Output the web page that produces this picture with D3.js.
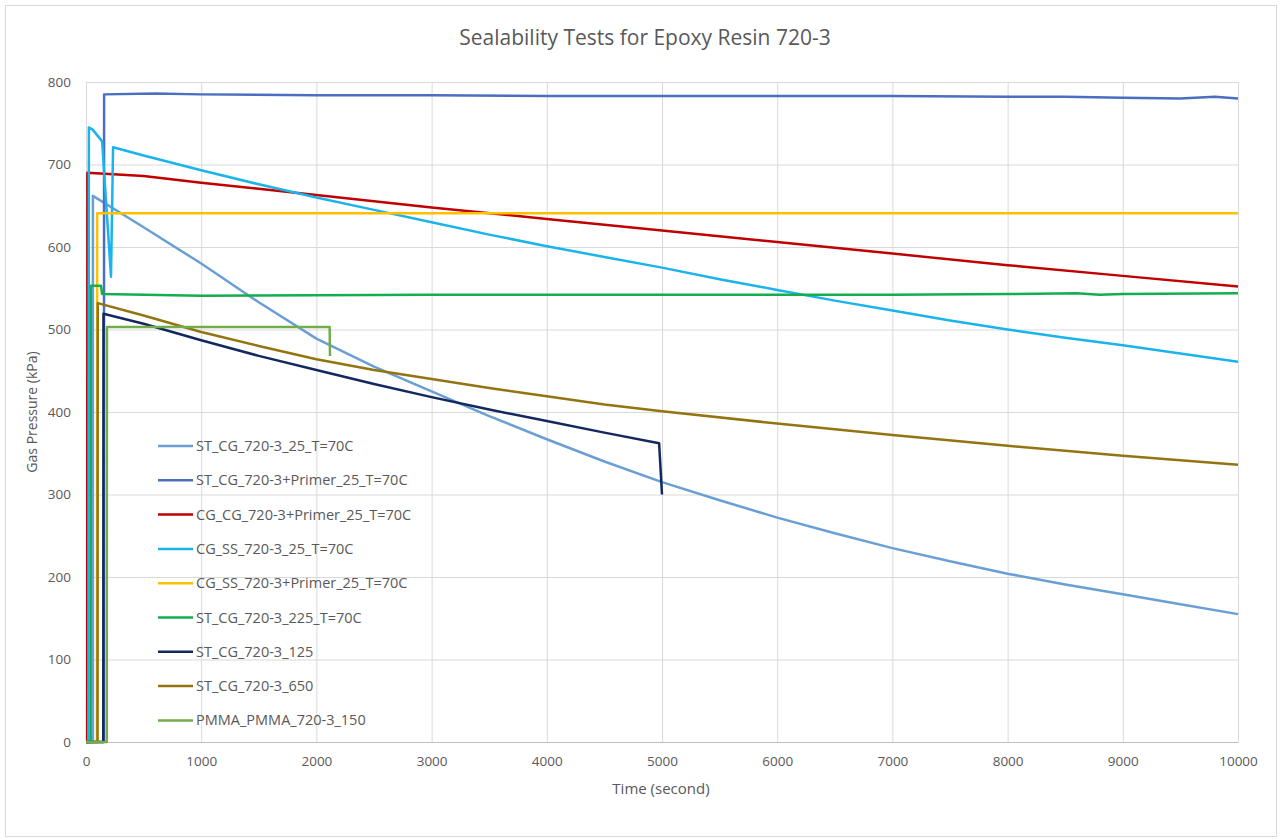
<!DOCTYPE html>
<html>
<head>
<meta charset="utf-8">
<script src="https://cdn.jsdelivr.net/npm/d3@7"></script>
<style>
  html, body { margin: 0; padding: 0; background: #ffffff; }
  svg text { font-family: "Open Sans", "Noto Sans", sans-serif; fill: #595959; }
</style>
</head>
<body>
<svg id="chart" width="1282" height="839"></svg>
<script>
// Pressure records: [time (s), gas pressure (kPa)]
const stCg25 = [[0,0],[60,0],[60,662],[500,624],[1000,580],[1500,533],[2000,489],[2500,455],[3000,425],[3500,395],[4000,367],[4500,340],[5000,315],[5500,293],[6000,272],[6500,253],[7000,235],[7500,219],[8000,204],[8500,191],[9000,179],[9500,167],[10000,155]];
const stCgPrimer25 = [[0,0],[155,0],[157,785],[600,786],[1000,785],[2000,784],[3000,784],[4000,783],[5000,783],[6000,783],[7000,783],[8000,782],[8500,782],[9000,781],[9500,780],[9800,782],[10000,780]];
const cgCgPrimer25 = [[0,0],[10,0],[12,690],[500,686],[1000,678],[2000,663],[3000,648],[4000,634],[5000,620],[6000,606],[7000,592],[8000,578],[9000,565],[10000,552]];
const cgSs25 = [[0,0],[20,0],[25,745],[60,742],[140,728],[217,564],[235,721],[500,711],[1000,693],[1500,676],[2000,660],[2500,645],[3000,630],[3500,615],[4000,601],[4500,588],[5000,575],[5500,561],[6000,548],[6500,535],[7000,523],[7500,511],[8000,500],[8500,490],[9000,481],[9500,471],[10000,461]];
const cgSsPrimer25 = [[0,0],[95,0],[97,641],[2000,641],[4000,641],[6000,641],[8000,641],[10000,641]];
const stCg225 = [[0,0],[40,0],[42,553],[130,553],[140,543],[1000,541],[3000,542],[5000,542],[7000,542],[8000,543],[8600,544],[8800,542],[9000,543],[10000,544]];
const stCg125 = [[0,0],[150,0],[152,519],[500,507],[1000,487],[1500,468],[2000,451],[2500,434],[3000,418],[3500,403],[4000,389],[4500,375],[4975,362],[5000,300]];
const stCg650 = [[0,0],[100,0],[102,532],[500,517],[1000,497],[1500,480],[2000,464],[2500,451],[3000,440],[3500,429],[4000,419],[4500,409],[5000,401],[6000,386],[7000,372],[8000,359],[9000,347],[10000,336]];
const pmma150 = [[0,0],[180,0],[182,503],[1000,503],[2115,503],[2118,468]];

const seriesNames = ["ST_CG_720-3_25_T=70C","ST_CG_720-3+Primer_25_T=70C","CG_CG_720-3+Primer_25_T=70C","CG_SS_720-3_25_T=70C","CG_SS_720-3+Primer_25_T=70C","ST_CG_720-3_225_T=70C","ST_CG_720-3_125","ST_CG_720-3_650","PMMA_PMMA_720-3_150"];
const seriesData = [stCg25, stCgPrimer25, cgCgPrimer25, cgSs25, cgSsPrimer25, stCg225, stCg125, stCg650, pmma150];
const seriesColors = ["#6a9fd6","#4a6fc0","#c00000","#1bb3eb","#ffc000","#12ae4f","#13285e","#937410","#72ad4a"];

const xTicks = [0,1000,2000,3000,4000,5000,6000,7000,8000,9000,10000];
const yTicks = [0,100,200,300,400,500,600,700,800];

const svg = d3.select("#chart");
const W = 1282, H = 839;
const plot = { left: 86, right: 1238, top: 82, bottom: 742 };

// chart frame
svg.append("rect").attr("x", 5.5).attr("y", 5.5).attr("width", W - 11).attr("height", H - 8)
  .attr("fill", "#ffffff").attr("stroke", "#d9d9d9").attr("stroke-width", 1);

const x = d3.scaleLinear().domain([0, 10000]).range([plot.left, plot.right]);
const y = d3.scaleLinear().domain([0, 800]).range([plot.bottom, plot.top]);

// gridlines
const grid = svg.append("g");
grid.selectAll("line.h").data(yTicks).join("line")
  .attr("x1", plot.left).attr("x2", plot.right)
  .attr("y1", d => y(d) + 0.5).attr("y2", d => y(d) + 0.5)
  .attr("stroke", "#d9d9d9").attr("stroke-width", 1);
grid.selectAll("line.v").data(xTicks).join("line")
  .attr("y1", plot.top).attr("y2", plot.bottom)
  .attr("x1", d => x(d) + 0.5).attr("x2", d => x(d) + 0.5)
  .attr("stroke", "#d9d9d9").attr("stroke-width", 1);

// axes
const xAxis = svg.append("g").attr("transform", `translate(0,${plot.bottom})`)
  .call(d3.axisBottom(x).tickValues(xTicks).tickSize(0).tickPadding(14).tickFormat(d3.format("d")));
xAxis.select(".domain").attr("stroke", "#bfbfbf");
xAxis.selectAll("text").style("font-size", "13.5px").style("fill", "#595959");

const yAxis = svg.append("g").attr("transform", `translate(${plot.left},0)`)
  .call(d3.axisLeft(y).tickValues(yTicks).tickSize(0).tickPadding(15).tickFormat(d3.format("d")));
yAxis.select(".domain").remove();
yAxis.selectAll("text").style("font-size", "13.5px").style("fill", "#595959");

// series lines
const line = d3.line().x(d => x(d[0])).y(d => y(d[1]));
svg.append("g").selectAll("path").data(seriesData).join("path")
  .attr("d", d => line(d))
  .attr("fill", "none")
  .attr("stroke", (d, i) => seriesColors[i])
  .attr("stroke-width", 2.5)
  .attr("stroke-linejoin", "round");

// titles
svg.append("text").attr("x", 645).attr("y", 45).attr("text-anchor", "middle")
  .style("font-size", "21px").text("Sealability Tests for Epoxy Resin 720-3");
svg.append("text").attr("x", 661).attr("y", 794).attr("text-anchor", "middle")
  .style("font-size", "15px").text("Time (second)");
svg.append("text").attr("transform", `translate(37,${(plot.top + plot.bottom) / 2}) rotate(-90)`)
  .attr("text-anchor", "middle").style("font-size", "14px").text("Gas Pressure (kPa)");

// legend
const legend = svg.append("g").attr("transform", "translate(158,446)");
const rows = legend.selectAll("g").data(seriesNames).join("g")
  .attr("transform", (d, i) => `translate(0,${i * 34.3})`);
rows.append("line").attr("x1", 0).attr("x2", 35).attr("y1", 0).attr("y2", 0)
  .attr("stroke", (d, i) => seriesColors[i]).attr("stroke-width", 2.5);
rows.append("text").attr("x", 38).attr("y", 0).attr("dy", "0.35em")
  .style("font-size", "14.5px").text(d => d);
</script>
</body>
</html>
